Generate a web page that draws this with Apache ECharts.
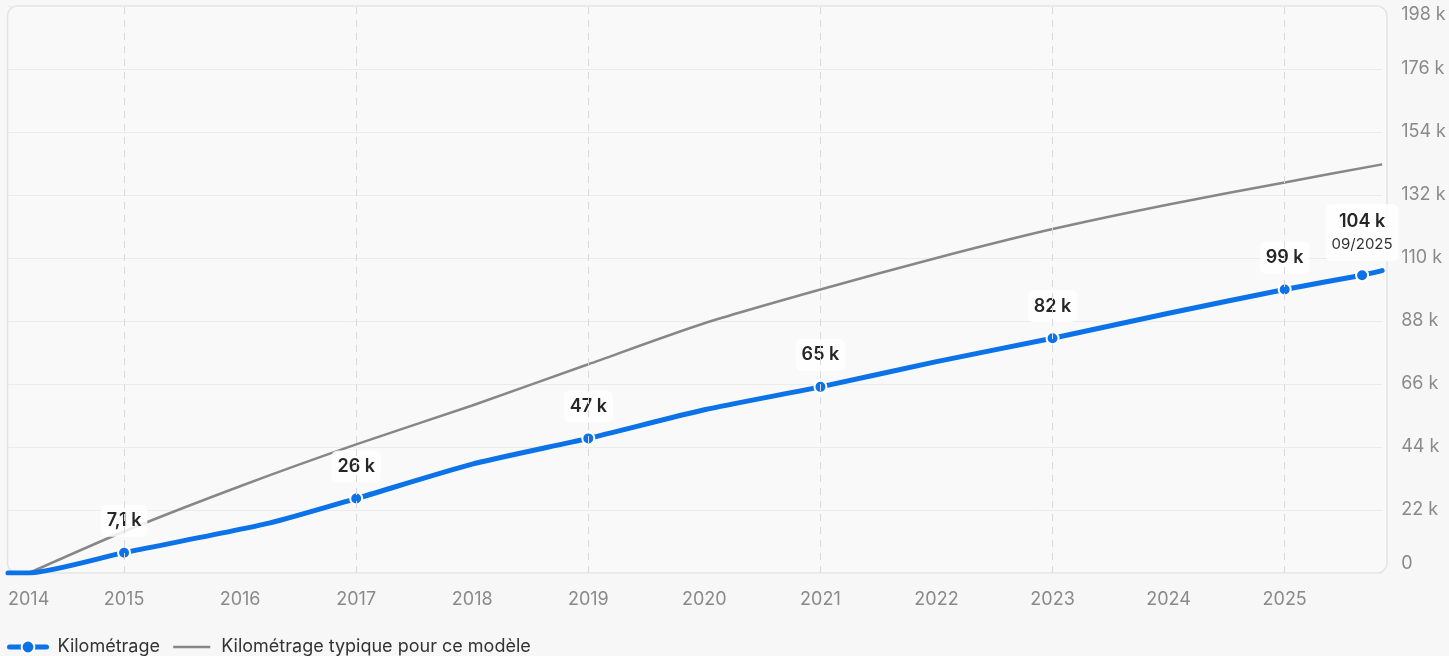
<!DOCTYPE html>
<html>
<head>
<meta charset="utf-8">
<script src="https://cdn.jsdelivr.net/npm/echarts@6/dist/echarts.min.js"></script>
<style>
html,body{margin:0;padding:0;background:#f7f7f7;overflow:hidden;}
#c{width:1449px;height:656px;}
</style>
</head>
<body>
<div id="c"></div>
<script>
// ---- data ----
const mileageYears = [2014, 2014.18, 2015, 2016.25, 2017, 2018, 2019, 2020, 2021, 2022, 2023, 2024, 2025, 2025.667, 2025.84];
const mileageKm    = [0, 0, 7100, 17400, 26000, 38000, 47000, 57000, 65000, 73800, 82000, 90700, 99000, 104000, 105600];
const labeledYears = [2015, 2017, 2019, 2021, 2023, 2025, 2025.667];
const lastReadingYear = 2025.667;
const lastReadingDate = '09/2025';
const typicalYears = [2014.18, 2015, 2016, 2017, 2018, 2019, 2020, 2021, 2022, 2023, 2024, 2025, 2025.84];
const typicalKm    = [0, 14500, 30300, 44900, 58500, 72900, 87200, 99000, 110000, 120100, 128700, 136400, 142700];
const dashedYears  = [2015, 2017, 2019, 2021, 2023, 2025];
const currentYear = 2025;
const xMin = 2014, xMax = 2025.84;
const yMax = 198000, yStep = 22000;
const seriesNames = ['Kilométrage', 'Kilométrage typique pour ce modèle'];

const BLUE = '#0b72e8';
const GREY = '#878787';
const FONT = 'Inter, "Noto Sans", sans-serif';

function fmtK(v) {
  if (v < 10000) return (v / 1000).toFixed(1).replace('.', ',') + ' k';
  return Math.round(v / 1000) + ' k';
}

const mileageData = mileageYears.map((x, i) => {
  const labeled = labeledYears.includes(x);
  const item = { value: [x, mileageKm[i]] };
  if (!labeled) {
    item.symbol = 'none';
    item.label = { show: false };
  } else if (x === lastReadingYear) {
    item.label = {
      show: true, distance: 7,
      padding: [5, 6, 6, 6],
      formatter: '{a|' + fmtK(mileageKm[i]) + '}\n{b|' + lastReadingDate + '}'
    };
  }
  return item;
});

const typicalData = typicalYears.map((x, i) => [x, typicalKm[i]]);

const gridL = 8, gridR = 61, gridT = 6, gridB = 83;

const chart = echarts.init(document.getElementById('c'));
const W = chart.getWidth(), H = chart.getHeight();

chart.setOption({
  backgroundColor: '#f7f7f7',
  animation: false,
  textStyle: { fontFamily: FONT },
  grid: { left: gridL, right: gridR, top: gridT, bottom: gridB, containLabel: false },
  graphic: [{
    type: 'rect', z: -10, silent: true,
    shape: { x: gridL - 0.5, y: gridT, width: W - gridL - gridR - 0.5, height: H - gridT - gridB, r: 10 },
    style: { fill: '#f9f9f9', stroke: '#e4e4e4', lineWidth: 1.5 }
  }],
  legend: {
    left: 7, bottom: 0, padding: 0,
    itemWidth: 37, itemHeight: 16, itemGap: 12,
    textStyle: { fontSize: 18, color: '#333', fontFamily: FONT, padding: [0, 0, 0, 6] },
    data: [
      { name: seriesNames[0], lineStyle: { width: 5, color: BLUE }, itemStyle: { color: BLUE, borderColor: '#fff', borderWidth: 2 } },
      { name: seriesNames[1], lineStyle: { width: 2.5, color: GREY }, itemStyle: { color: 'transparent', borderWidth: 0, opacity: 0 } }
    ]
  },
  xAxis: {
    type: 'value', min: xMin, max: xMax, interval: 1,
    axisLine: { show: false }, axisTick: { show: false },
    splitLine: { show: false },
    axisLabel: {
      margin: 18, fontSize: 18, fontFamily: FONT,
      alignMinLabel: 'left',
      color: v => (v === currentYear ? BLUE : '#8a8a8a'),
      formatter: v => (Number.isInteger(v) ? String(v) : '')
    }
  },
  yAxis: {
    type: 'value', position: 'right', min: 0, max: yMax, interval: yStep,
    axisLine: { show: false }, axisTick: { show: false },
    splitLine: { lineStyle: { color: '#ebebeb', width: 1 } },
    axisLabel: {
      margin: 19, fontSize: 18, color: '#8a8a8a', fontFamily: FONT,
      verticalAlignMinLabel: 'bottom', verticalAlignMaxLabel: 'top',
      formatter: v => (v === 0 ? '0' : Math.round(v / 1000) + ' k')
    }
  },
  series: [
    {
      name: seriesNames[1], type: 'line', z: 2,
      data: typicalData, smooth: 0.25,
      symbol: 'none',
      lineStyle: { color: GREY, width: 2.5 },
      itemStyle: { color: GREY },
      markLine: {
        silent: true, symbol: 'none', label: { show: false },
        lineStyle: { color: '#dadada', width: 1, type: [7, 6] },
        data: dashedYears.map(y => ({ xAxis: y }))
      }
    },
    {
      name: seriesNames[0], type: 'line', z: 3,
      data: mileageData, smooth: 0.2,
      symbol: 'circle', symbolSize: 12, showSymbol: true,
      lineStyle: { color: BLUE, width: 5, cap: 'round' },
      itemStyle: { color: BLUE, borderColor: '#fff', borderWidth: 2 },
      label: {
        show: true, position: 'top', distance: 9,
        formatter: p => fmtK(p.value[1]),
        fontSize: 18, fontWeight: 600, color: '#262626', fontFamily: FONT,
        backgroundColor: 'rgba(255,255,255,0.85)', borderRadius: 6,
        padding: [7, 6, 7, 6],
        rich: {
          a: { fontSize: 18, fontWeight: 600, color: '#262626', fontFamily: FONT, lineHeight: 24 },
          b: { fontSize: 15, fontWeight: 'normal', color: '#333', fontFamily: FONT, lineHeight: 22 }
        }
      },
      emphasis: { disabled: true }
    }
  ]
});
</script>
</body>
</html>
